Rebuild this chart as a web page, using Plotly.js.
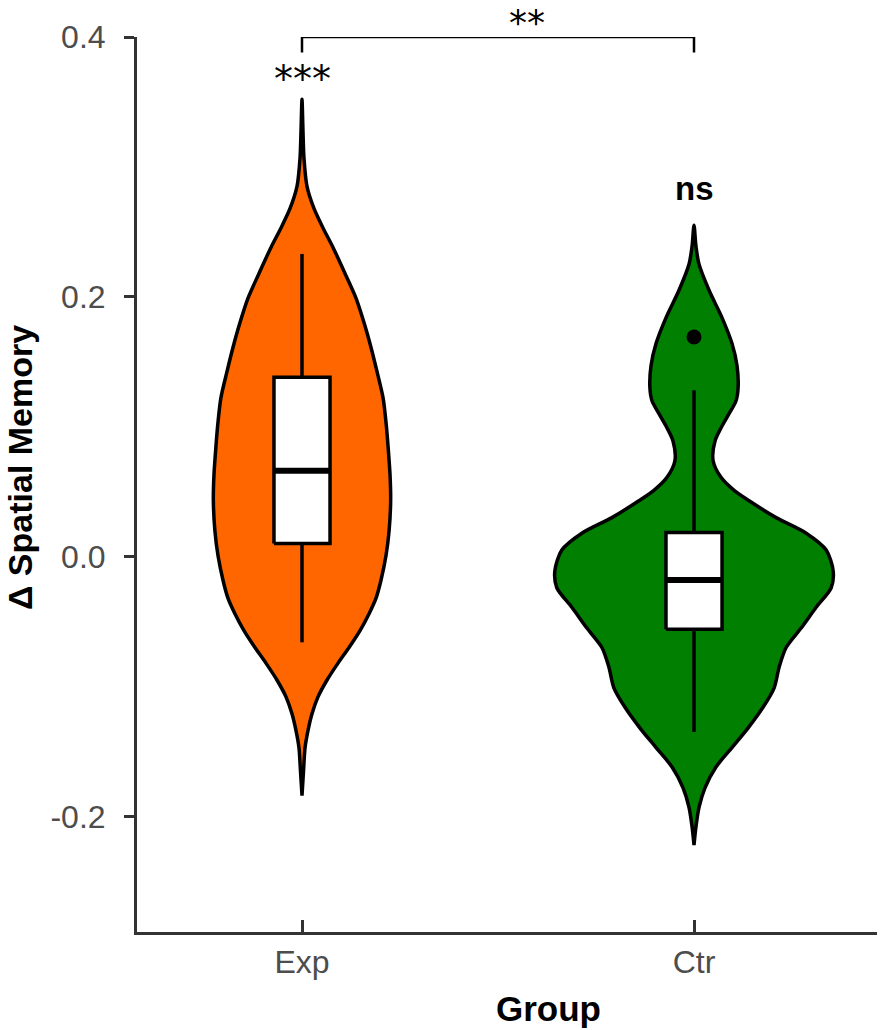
<!DOCTYPE html>
<html>
<head>
<meta charset="utf-8">
<script src="https://cdn.plot.ly/plotly-3.0.1.min.js"></script>
<style>
  html, body { margin: 0; padding: 0; background: #fff; }
  #chart { width: 881px; height: 1030px; }
</style>
</head>
<body>
<div id="chart"></div>
<script>
// ---- data ----
const groups = ['Exp', 'Ctr'];
const groupPos = [1, 2];
const groupColors = ['#FF6600', '#007F00'];

// violin density profiles (value levels, relative density 0..1, shared scale)
const expLevels = [0.352, 0.328, 0.307, 0.285, 0.268, 0.253, 0.238, 0.218, 0.199, 0.180, 0.161, 0.142, 0.122, 0.103, 0.084, 0.062, 0.043, 0.020, 0.001, -0.018, -0.032, -0.044, -0.057, -0.070, -0.082, -0.095, -0.108, -0.121, -0.134, -0.147, -0.165, -0.184];
const expDensity = [0, 0.007, 0.014, 0.036, 0.086, 0.151, 0.223, 0.309, 0.388, 0.446, 0.496, 0.540, 0.583, 0.604, 0.619, 0.633, 0.637, 0.626, 0.604, 0.568, 0.532, 0.482, 0.417, 0.338, 0.259, 0.180, 0.115, 0.072, 0.043, 0.022, 0.011, 0];

const ctrLevels = [0.255, 0.239, 0.225, 0.205, 0.184, 0.164, 0.147, 0.130, 0.120, 0.110, 0.099, 0.089, 0.074, 0.061, 0.051, 0.043, 0.030, 0.018, 0.005, -0.011, -0.024, -0.039, -0.055, -0.070, -0.085, -0.101, -0.116, -0.132, -0.147, -0.162, -0.178, -0.193, -0.208, -0.222];
const ctrDensity = [0, 0.014, 0.036, 0.108, 0.201, 0.273, 0.309, 0.317, 0.302, 0.252, 0.194, 0.151, 0.137, 0.194, 0.288, 0.396, 0.590, 0.806, 0.950, 1.0, 0.986, 0.878, 0.770, 0.662, 0.612, 0.576, 0.496, 0.388, 0.273, 0.158, 0.079, 0.036, 0.014, 0];

// box statistics
const boxLower = [-0.066, -0.135];
const boxQ1 = [0.010, -0.056];
const boxMedian = [0.066, -0.018];
const boxQ3 = [0.138, 0.0185];
const boxUpper = [0.233, 0.128];

// outliers
const outlierGroup = [2];
const outlierValue = [0.169];

// significance labels
const groupSig = ['***', 'ns'];
const groupSigY = [0.368, 0.283];
const pairSig = '**';
const pairSigY = 0.4108;

const yTickVals = [-0.2, 0.0, 0.2, 0.4];
const yTickText = ['-0.2', '0.0', '0.2', '0.4'];

// ---- drawing ----
const Y_RANGE = [-0.289, 0.4];
const VIOLIN_HALF = 0.355;  // max half-width in x units
const BOX_WIDTH = 0.143;

function violinTrace(center, levels, dens, color, name) {
  const xs = [], ys = [];
  for (let i = 0; i < levels.length; i++) { xs.push(center + dens[i] * VIOLIN_HALF); ys.push(levels[i]); }
  for (let i = levels.length - 1; i >= 0; i--) { xs.push(center - dens[i] * VIOLIN_HALF); ys.push(levels[i]); }
  return {
    type: 'scatter', mode: 'lines', x: xs, y: ys, name: name,
    fill: 'toself', fillcolor: color,
    line: { color: '#000', width: 3.5, shape: 'spline', smoothing: 0.8 },
    hoverinfo: 'skip', showlegend: false
  };
}

const traces = [
  violinTrace(groupPos[0], expLevels, expDensity, groupColors[0], groups[0]),
  violinTrace(groupPos[1], ctrLevels, ctrDensity, groupColors[1], groups[1])
];

// whiskers
const wx = [], wy = [];
groupPos.forEach((c, i) => {
  wx.push(c, c, null, c, c, null);
  wy.push(boxLower[i], boxQ1[i], null, boxQ3[i], boxUpper[i], null);
});
traces.push({
  type: 'scatter', mode: 'lines', x: wx, y: wy,
  line: { color: '#000', width: 3.5 }, hoverinfo: 'skip', showlegend: false
});
// boxes
groupPos.forEach((c, i) => {
  const l = c - BOX_WIDTH / 2, r = c + BOX_WIDTH / 2;
  traces.push({
    type: 'scatter', mode: 'lines',
    x: [l, r, r, l, l], y: [boxQ1[i], boxQ1[i], boxQ3[i], boxQ3[i], boxQ1[i]],
    fill: 'toself', fillcolor: '#fff',
    line: { color: '#000', width: 3.5 }, hoverinfo: 'skip', showlegend: false
  });
});
// outliers
traces.push({
  type: 'scatter', mode: 'markers', x: outlierGroup, y: outlierValue,
  marker: { color: '#000', size: 15 }, showlegend: false, hoverinfo: 'skip'
});

const shapes = [];
groupPos.forEach((c, i) => {
  shapes.push({
    type: 'line', xref: 'x', yref: 'y', layer: 'above',
    x0: c - BOX_WIDTH / 2, x1: c + BOX_WIDTH / 2, y0: boxMedian[i], y1: boxMedian[i],
    line: { color: '#000', width: 6 }
  });
});
// comparison bracket
const brTop = 0.4, brTick = 0.388;
shapes.push({
  type: 'path', xref: 'x', yref: 'y', layer: 'above',
  path: `M ${groupPos[0]},${brTick} L ${groupPos[0]},${brTop} L ${groupPos[1]},${brTop} L ${groupPos[1]},${brTick}`,
  line: { color: '#000', width: 2.5 }
});

const toPaperY = v => (v - Y_RANGE[0]) / (Y_RANGE[1] - Y_RANGE[0]);

const annotations = [];
groupPos.forEach((c, i) => {
  const isStar = groupSig[i].indexOf('*') >= 0;
  annotations.push({
    x: c, y: groupSigY[i], xref: 'x', yref: 'y', text: groupSig[i], showarrow: false,
    xanchor: 'center', yanchor: 'middle',
    font: isStar ? { family: 'DejaVu Sans', size: 38, color: '#000' }
                 : { family: 'Liberation Sans', size: 33, color: '#000', weight: 'bold' }
  });
});
annotations.push({
  x: 1.575, y: toPaperY(pairSigY), xref: 'x', yref: 'paper', text: pairSig, showarrow: false,
  xanchor: 'center', yanchor: 'middle',
  font: { family: 'DejaVu Sans', size: 36, color: '#000' }
});
// axis titles
annotations.push({
  x: 1.6276, y: 0, xref: 'x', yref: 'paper', yshift: -76, text: 'Group', showarrow: false,
  xanchor: 'center', yanchor: 'middle',
  font: { family: 'Liberation Sans', size: 35, color: '#000', weight: 'bold' }
});
annotations.push({
  x: 0, y: 0.5184, xref: 'paper', yref: 'paper', xshift: -117, text: 'Δ Spatial Memory', showarrow: false,
  textangle: -90, xanchor: 'center', yanchor: 'middle',
  font: { family: 'Liberation Sans', size: 34, color: '#000', weight: 'bold' }
});

const layout = {
  width: 881, height: 1030,
  margin: { l: 137, r: 4, t: 37, b: 98 },
  paper_bgcolor: '#fff', plot_bgcolor: '#fff',
  font: { family: 'Liberation Sans, Arial, sans-serif' },
  showlegend: false,
  xaxis: {
    range: [0.5791, 2.4668], tickvals: groupPos, ticktext: groups,
    ticks: 'inside', ticklen: 12, tickwidth: 3, tickcolor: '#333',
    showline: true, linecolor: '#333', linewidth: 3,
    showgrid: false, zeroline: false,
    tickfont: { size: 32, color: '#4d4d4d' }
  },
  yaxis: {
    range: Y_RANGE, tickvals: yTickVals, ticktext: yTickText,
    ticks: 'outside', ticklen: 10, tickwidth: 3, tickcolor: '#333',
    showline: true, linecolor: '#333', linewidth: 3,
    showgrid: false, zeroline: false, ticklabelstandoff: 12,
    tickfont: { size: 32, color: '#4d4d4d' }
  },
  shapes: shapes,
  annotations: annotations
};

Plotly.newPlot('chart', traces, layout, { displayModeBar: false, staticPlot: true });
</script>
</body>
</html>
